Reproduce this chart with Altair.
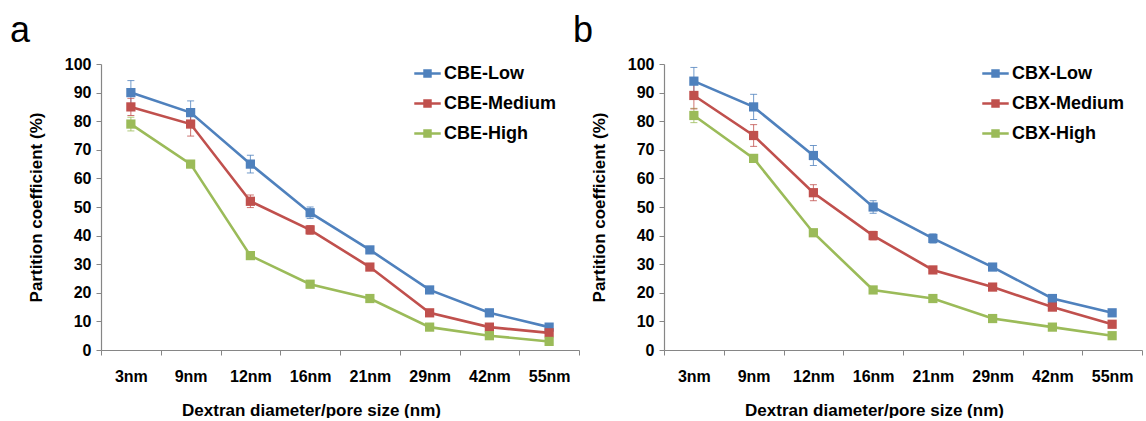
import altair as alt
import pandas as pd

categories = ["3nm", "9nm", "12nm", "16nm", "21nm", "29nm", "42nm", "55nm"]

# Panel a (CBE)
a_low = [90, 83, 65, 48, 35, 21, 13, 8]
a_low_err = [4.2, 4.1, 3.1, 2.0, 1.0, 0.6, 0.5, 0.4]
a_med = [85, 79, 52, 42, 29, 13, 8, 6]
a_med_err = [3.0, 4.2, 2.2, 1.5, 0.8, 0.6, 0.5, 0.4]
a_high = [79, 65, 33, 23, 18, 8, 5, 3]
a_high_err = [2.4, 1.0, 0.6, 0.5, 0.5, 0.4, 0.4, 0.3]

# Panel b (CBX)
b_low = [94, 85, 68, 50, 39, 29, 18, 13]
b_low_err = [4.8, 4.4, 3.5, 2.2, 1.6, 0.6, 0.5, 0.5]
b_med = [89, 75, 55, 40, 28, 22, 15, 9]
b_med_err = [4.7, 3.8, 2.8, 1.5, 0.8, 0.6, 0.5, 0.4]
b_high = [82, 67, 41, 21, 18, 11, 8, 5]
b_high_err = [2.5, 1.2, 0.6, 0.5, 0.5, 0.4, 0.4, 0.3]

y_ticks = [0, 10, 20, 30, 40, 50, 60, 70, 80, 90, 100]

colors = ["#4F81BD", "#C0504D", "#9BBB59"]
FONT = "Liberation Sans"
LEGEND_SYMBOL = "M-1,-0.09L1,-0.09L1,0.09L-1,0.09Z M-0.32,-0.32L0.32,-0.32L0.32,0.32L-0.32,0.32Z"


def make_panel(prefix, series, label, legend_x):
    names = [f"{prefix}-Low", f"{prefix}-Medium", f"{prefix}-High"]
    rows = []
    for name, (vals, errs) in zip(names, series):
        for c, v, e in zip(categories, vals, errs):
            rows.append({"cat": c, "series": name, "val": v,
                         "lo": v - e, "hi": v + e})
    df = pd.DataFrame(rows)
    base = alt.Chart(df)
    xenc = alt.X(
        "cat:N", sort=categories,
        scale=alt.Scale(type="band", paddingInner=0, paddingOuter=0),
        axis=alt.Axis(title="Dextran diameter/pore size (nm)", tickBand="extent",
                      labelAngle=0, labelPadding=13, titlePadding=18, titleX=210),
    )
    yaxis = alt.Axis(title="Partition coefficient (%)", values=y_ticks,
                     grid=False, labelPadding=5, titlePadding=19, labelOverlap=False)
    yscale = alt.Scale(domain=[0, 100])

    def Y(field):
        return alt.Y(field, type="quantitative", scale=yscale, axis=yaxis)

    cscale = alt.Scale(domain=names, range=colors)
    color = alt.Color(
        "series:N", scale=cscale,
        legend=alt.Legend(
            title=None, orient="none", legendX=legend_x, legendY=-4,
            symbolType=LEGEND_SYMBOL, symbolSize=700, symbolStrokeWidth=0,
            symbolOpacity=1,
            labelFont=FONT, labelFontSize=18, labelFontWeight="bold",
            labelColor="black", labelOffset=3, rowPadding=7,
        ),
    )

    err_rule = base.mark_rule(strokeWidth=1, opacity=0.8).encode(
        x=xenc, y=Y("lo"), y2="hi:Q", color=color)
    cap_top = base.mark_tick(size=7, thickness=1, opacity=0.8).encode(
        x=xenc, y=Y("hi"), color=color)
    cap_bot = base.mark_tick(size=7, thickness=1, opacity=0.8).encode(
        x=xenc, y=Y("lo"), color=color)
    line = base.mark_line(strokeWidth=2.6).encode(
        x=xenc, y=Y("val"), color=color, detail="series:N")
    pts = base.mark_point(shape="square", filled=True, size=85, opacity=1).encode(
        x=xenc, y=Y("val"), color=color)
    return alt.layer(err_rule, cap_top, cap_bot, line, pts).properties(
        width=478, height=286,
        title=alt.TitleParams(label, anchor="start", frame="group", dx=-91,
                              fontSize=36, fontWeight="normal", font=FONT,
                              baseline="alphabetic", offset=-22, color="black"),
    )


pa = make_panel("CBE", [(a_low, a_low_err), (a_med, a_med_err), (a_high, a_high_err)], "a", 313)
pb = make_panel("CBX", [(b_low, b_low_err), (b_med, b_med_err), (b_high, b_high_err)], "b", 318)

chart = (
    alt.hconcat(pa, pb, spacing=85, bounds="flush")
    .resolve_scale(color="independent")
    .resolve_legend(color="independent")
    .properties(padding={"left": 10, "top": 13, "right": 0, "bottom": 0}, background="white")
    .configure_view(stroke=None)
    .configure_axis(
        labelFont=FONT, labelFontSize=16, labelFontWeight="bold", labelColor="black",
        titleFont=FONT, titleFontSize=17, titleFontWeight="bold", titleColor="black",
        domainColor="#868686", tickColor="#868686", tickSize=5, domainWidth=1.2,
    )
)

chart.save("out.html", embed_options={"renderer": "svg", "actions": False})
